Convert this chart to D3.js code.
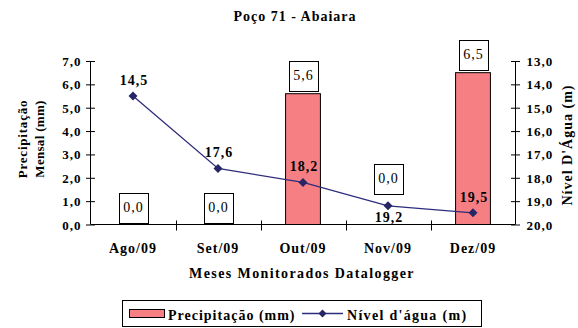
<!DOCTYPE html>
<html>
<head>
<meta charset="utf-8">
<script src="https://cdn.jsdelivr.net/npm/d3@7"></script>
<style>
  html, body { margin: 0; padding: 0; background: #fff; }
  svg { display: block; }
  text { font-family: "Liberation Serif", "Times New Roman", serif; fill: #000; }
</style>
</head>
<body>
<svg id="chart" width="578" height="328"></svg>
<script>
// ---- data ----
const months = ["Ago/09", "Set/09", "Out/09", "Nov/09", "Dez/09"];
const precipitation = [0.0, 0.0, 5.6, 0.0, 6.5];      // mm
const waterLevel = [14.5, 17.6, 18.2, 19.2, 19.5];    // m
const leftTicks = [0, 1, 2, 3, 4, 5, 6, 7];
const rightTicks = [13, 14, 15, 16, 17, 18, 19, 20];
const title = "Poço 71 - Abaiara";
const xTitle = "Meses Monitorados Datalogger";
const leftTitle = ["Precipitação", "Mensal (mm)"];
const rightTitle = "Nível D'Água (m)";
const legendLabels = ["Precipitação (mm)", "Nível d'água (m)"];

// ---- layout ----
const svg = d3.select("#chart");
const FONT = "Liberation Serif";
const plot = { left: 90.5, right: 515.5, top: 61, bottom: 224.5 };
const barColor = "#F67F84";
const lineColor = "#2E2C7C";
const markColor = "#262566";
const fmt = v => d3.format(".1f")(v).replace(".", ",");

const x = d3.scaleBand().domain(months).range([plot.left, plot.right]).padding(0);
const yL = d3.scaleLinear().domain([0, 7]).range([plot.bottom, plot.top]);
const yR = d3.scaleLinear().domain([13, 20]).range([plot.top, plot.bottom]);
const barW = x.bandwidth() * 0.41;
const cx = m => x(m) + x.bandwidth() / 2;

// title
svg.append("text").attr("x", 295).attr("y", 21).attr("text-anchor", "middle")
  .attr("font-family", FONT)
  .attr("font-size", 14).attr("font-weight", "bold").attr("letter-spacing", 1)
  .text(title);

// bars
svg.append("g").selectAll("rect")
  .data(months.map((m, i) => ({ m, v: precipitation[i] })).filter(d => d.v > 0))
  .join("rect")
  .attr("x", d => cx(d.m) - barW / 2)
  .attr("y", d => yL(d.v))
  .attr("width", barW)
  .attr("height", d => yL(0) - yL(d.v))
  .attr("fill", barColor).attr("stroke", "#000").attr("stroke-width", 1);

// left axis
const axL = svg.append("g").attr("transform", `translate(${plot.left},0)`)
  .call(d3.axisLeft(yL).tickValues(leftTicks).tickSize(4.5).tickFormat(fmt));
axL.selectAll(".tick line").clone().attr("x2", 4.5);
axL.select(".domain").attr("d", `M0,${plot.top}V${plot.bottom}`);
// right axis
const axR = svg.append("g").attr("transform", `translate(${plot.right},0)`)
  .call(d3.axisRight(yR).tickValues(rightTicks).tickSize(4.5).tickFormat(fmt));
axR.selectAll(".tick line").clone().attr("x2", -4.5);
axR.select(".domain").attr("d", `M0,${plot.top}V${plot.bottom}`);
// x axis
const axX = svg.append("g").attr("transform", `translate(0,${plot.bottom})`)
  .call(d3.axisBottom(x).tickSize(0));
axX.select(".domain").attr("d", `M${plot.left},0H${plot.right}`);
// category separators
svg.append("g").selectAll("line").data(months.slice(1)).join("line")
  .attr("x1", d => Math.round(x(d)) + 0.5).attr("x2", d => Math.round(x(d)) + 0.5)
  .attr("y1", plot.bottom - 4).attr("y2", plot.bottom + 6)
  .attr("stroke", "#000");

[axL, axR, axX].forEach(g => {
  g.selectAll(".domain").attr("stroke", "#000");
  g.selectAll(".tick line").attr("stroke", "#000");
  g.selectAll("text").attr("font-family", FONT)
    .attr("font-weight", "bold").attr("fill", "#000").attr("letter-spacing", 1);
});
axL.selectAll("text").attr("font-size", 13).attr("x", -9).attr("dy", "0.35em");
axR.selectAll("text").attr("font-size", 13).attr("x", 11).attr("dy", "0.35em");
axX.selectAll("text").attr("font-size", 14).attr("y", 28).attr("dy", 0);

// axis titles
svg.append("text").attr("x", 302).attr("y", 278).attr("text-anchor", "middle")
  .attr("font-family", FONT)
  .attr("font-size", 14).attr("font-weight", "bold").attr("letter-spacing", 1.4)
  .text(xTitle);
const leftSpacing = [0.8, 0.3];
leftTitle.forEach((t, i) => {
  svg.append("text")
    .attr("transform", `translate(${27 + i * 17},139) rotate(-90)`)
    .attr("font-family", FONT)
    .attr("text-anchor", "middle").attr("font-size", 13).attr("font-weight", "bold")
    .attr("letter-spacing", leftSpacing[i]).text(t);
});
svg.append("text")
  .attr("transform", `translate(572,145) rotate(-90)`)
  .attr("font-family", FONT)
  .attr("text-anchor", "middle").attr("font-size", 14).attr("font-weight", "bold")
  .attr("letter-spacing", 1).text(rightTitle);

// line
const pts = months.map((m, i) => ({ m, v: waterLevel[i], x: cx(m), y: yR(waterLevel[i]) }));
svg.append("path").datum(pts)
  .attr("d", d3.line().x(d => d.x).y(d => d.y))
  .attr("fill", "none").attr("stroke", lineColor).attr("stroke-width", 1.3);
svg.append("g").selectAll("path").data(pts).join("path")
  .attr("transform", d => `translate(${d.x},${d.y})`)
  .attr("d", "M0,-4.5L4.5,0L0,4.5L-4.5,0Z")
  .attr("fill", markColor);

// line labels
const belowLabels = new Set(["Nov/09"]);
svg.append("g").selectAll("text").data(pts).join("text")
  .attr("font-family", FONT)
  .attr("x", d => d.x + 1).attr("y", d => belowLabels.has(d.m) ? d.y + 16 : d.y - 11)
  .attr("text-anchor", "middle").attr("font-size", 14).attr("font-weight", "bold")
  .attr("letter-spacing", 1).text(d => fmt(d.v));

// bar value boxes
const boxW = 29, boxH = 30;
const boxes = months.map((m, i) => {
  let bottom = yL(precipitation[i]) - (precipitation[i] > 0 ? 3 : 2);
  const p = pts[i];
  if (belowLabels.has(m) && bottom > p.y - 10) bottom = p.y - 12;
  return { m, v: precipitation[i], cx: cx(m), bottom };
});
const bg = svg.append("g").selectAll("g").data(boxes).join("g");
bg.append("rect")
  .attr("x", d => Math.round(d.cx - boxW / 2) + 0.5)
  .attr("y", d => Math.round(d.bottom - boxH) + 0.5)
  .attr("width", boxW).attr("height", boxH)
  .attr("fill", "#fff").attr("stroke", "#000").attr("stroke-width", 1);
bg.append("text")
  .attr("font-family", FONT)
  .attr("x", d => d.cx + 0.5).attr("y", d => d.bottom - 11)
  .attr("text-anchor", "middle").attr("font-size", 14).attr("letter-spacing", 1)
  .text(d => fmt(d.v));

// legend
const lg = svg.append("g");
lg.append("rect").attr("x", 122.5).attr("y", 300.5).attr("width", 359).attr("height", 26)
  .attr("fill", "#fff").attr("stroke", "#000");
lg.append("rect").attr("x", 129.5).attr("y", 309.5).attr("width", 35).attr("height", 8)
  .attr("fill", barColor).attr("stroke", "#000");
lg.append("text").attr("font-family", FONT).attr("x", 168).attr("y", 320)
  .attr("font-size", 14).attr("font-weight", "bold")
  .attr("letter-spacing", 1).text(legendLabels[0]);
lg.append("line").attr("x1", 302).attr("x2", 343).attr("y1", 313.5).attr("y2", 313.5)
  .attr("stroke", lineColor).attr("stroke-width", 1.3);
lg.append("path").attr("transform", "translate(322.5,313.5)")
  .attr("d", "M0,-4L4,0L0,4L-4,0Z").attr("fill", markColor);
lg.append("text").attr("font-family", FONT).attr("x", 347).attr("y", 320)
  .attr("font-size", 14).attr("font-weight", "bold")
  .attr("letter-spacing", 1.3).text(legendLabels[1]);
</script>
</body>
</html>
